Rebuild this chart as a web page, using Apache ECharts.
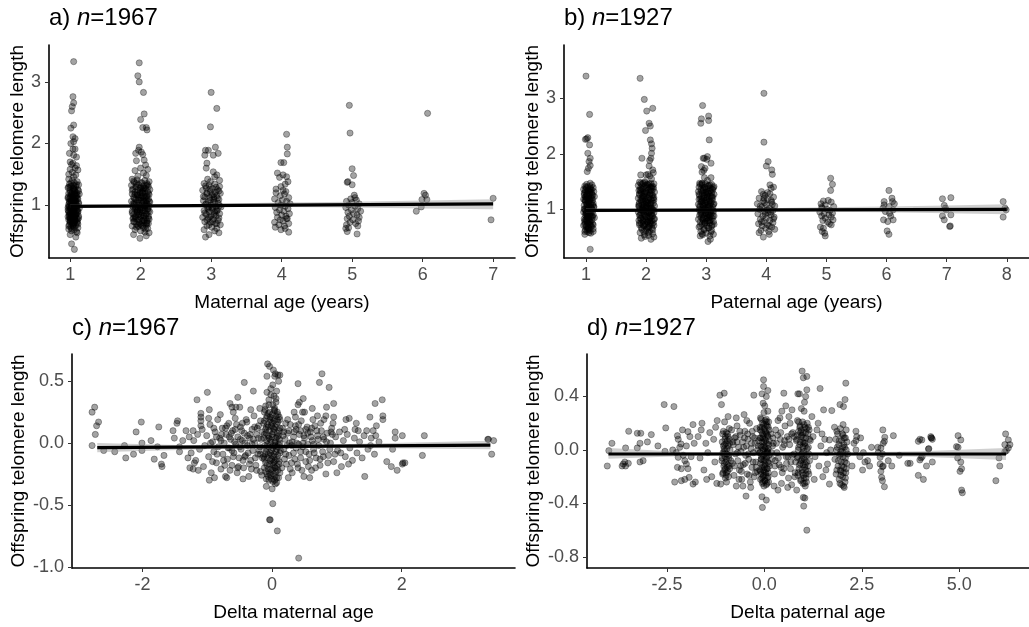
<!DOCTYPE html>
<html>
<head>
<meta charset="utf-8">
<script src="https://cdn.jsdelivr.net/npm/echarts@6/dist/echarts.min.js"></script>
<style>html,body{margin:0;padding:0;background:#fff}#c{width:1029px;height:627px}</style>
</head>
<body>
<div id="c"></div>
<script>
// ---------- Tick labels ----------
const ticksAX = [1,2,3,4,5,6,7];
const ticksAY = [1,2,3];
const ticksBX = [1,2,3,4,5,6,7,8];
const ticksBY = [1,2,3];
const ticksCX = [-2,0,2];
const ticksCY = [-1.0,-0.5,0.0,0.5];
const ticksDX = [-2.5,0.0,2.5,5.0];
const ticksDY = [-0.8,-0.4,0.0,0.4];

// ---------- Panel a: maternal age vs offspring telomere length ----------
const a1 = [[1.05,3.33],[1.04,2.76],[1.05,2.66],[1.03,2.60],[1.02,2.53],[1.01,2.25],[1.05,2.30],[1.04,2.11],[1.07,2.08],[1.01,2.00],[1.05,2.03],[1.04,1.91],[1.07,1.91],[0.99,1.84],[1.05,1.81],[1.09,1.78],[1.00,1.70],[1.04,1.68],[1.09,1.64],[1.02,1.66],[1.07,1.60],[1.00,1.58],[1.11,1.57],[1.03,1.53],[0.98,1.50],[1.08,1.49],[1.05,1.46],
[1.08,0.48],[1.02,0.37],[1.06,0.28],[1.00,0.52],[1.10,0.55],
[0.98,1.42],[1.03,1.40],[1.10,1.38],[1.06,1.36],[0.99,1.34],[1.12,1.33],[1.02,1.31],[1.08,1.30],[0.97,1.28],[1.05,1.27],[1.11,1.25],[1.00,1.24],[1.07,1.22],[1.03,1.21],[0.98,1.19],[1.13,1.18],[1.06,1.17],[1.01,1.15],[1.09,1.14],[1.04,1.13],[0.97,1.11],[1.11,1.10],[1.02,1.09],[1.07,1.08],[0.99,1.06],[1.05,1.05],[1.12,1.04],[1.01,1.03],[1.08,1.02],[0.98,1.01],[1.04,1.00],[1.10,0.99],[1.02,0.98],[1.06,0.97],[0.97,0.96],[1.13,0.95],[1.00,0.94],[1.07,0.93],[1.03,0.92],[1.09,0.91],[0.98,0.90],[1.05,0.89],[1.11,0.88],[1.01,0.87],[1.06,0.86],[0.99,0.85],[1.08,0.84],[1.03,0.83],[1.12,0.82],[0.97,0.81],[1.05,0.80],[1.01,0.79],[1.09,0.78],[1.04,0.77],[0.98,0.76],[1.07,0.75],[1.02,0.74],[1.10,0.73],[1.00,0.72],[1.06,0.71],[1.03,0.70],[0.99,0.68],[1.08,0.67],[1.04,0.66],[1.01,0.64],[1.11,0.63],[0.98,0.61],[1.06,0.60],[1.02,0.58],[1.09,0.57],
[1.00,1.12],[1.08,1.07],[1.04,1.02],[0.99,0.97],[1.10,0.92],[1.03,0.88],[1.07,0.82],[1.00,0.78],[1.05,0.72],[1.11,0.69],[1.02,1.17],[1.06,1.26],[1.09,1.20]];
const a1more = [[1.01,1.36],[1.09,1.33],[0.98,1.29],[1.04,1.26],[1.12,1.23],[1.00,1.20],[1.07,1.18],[1.03,1.15],[0.97,1.13],[1.10,1.11],[1.05,1.09],[1.01,1.07],[1.08,1.05],[0.99,1.04],[1.12,1.02],[1.03,1.01],[1.06,0.99],[0.98,0.98],[1.09,0.96],[1.01,0.95],[1.05,0.93],[0.97,0.92],[1.11,0.90],[1.04,0.89],[1.00,0.87],[1.08,0.85],[1.02,0.84],[1.06,0.81],[0.99,0.80],[1.12,0.79],[1.03,0.77],[1.07,0.74],[1.00,0.73],[1.10,0.71],[1.04,0.68],[0.98,0.66],[1.06,0.64],[1.02,0.62],[1.08,1.15],[1.05,0.95],
[1.00,1.30],[1.06,1.24],[1.02,1.19],[1.10,1.16],[0.99,1.10],[1.05,1.07],[1.08,0.99],[1.01,0.97],[1.04,0.94],[0.98,0.88],[1.09,0.86],[1.03,0.81],[1.06,0.78],[1.00,0.75],[1.11,0.77],[1.04,0.70],[1.02,1.05],[1.07,1.12],[0.99,0.83],[1.05,1.32]];
const a2 = [[1.98,3.31],[1.96,3.10],[1.98,3.00],[2.04,2.83],[2.05,2.48],[2.00,2.39],[2.03,2.26],[2.08,2.26],[2.09,2.22],[1.98,1.94],[1.97,1.89],[1.93,1.84],[2.03,1.82],[2.01,1.86],[1.94,1.72],[2.05,1.73],[2.07,1.65],[2.00,1.60],[2.10,1.58],[1.92,1.56],[2.04,1.52],[2.08,1.48],[1.96,1.47],
[1.99,0.46],[2.08,0.50],[1.90,0.52],[2.12,0.55],
[1.88,1.42],[1.95,1.41],[2.06,1.40],[2.12,1.38],[1.91,1.37],[2.02,1.36],[2.09,1.35],[1.97,1.33],[1.87,1.32],[2.04,1.31],[2.11,1.30],[1.93,1.29],[2.00,1.28],[2.07,1.27],[1.89,1.26],[2.13,1.25],[1.96,1.24],[2.03,1.23],[2.10,1.22],[1.92,1.21],[1.99,1.20],[2.06,1.19],[1.88,1.18],[2.12,1.17],[1.95,1.16],[2.01,1.15],[2.08,1.14],[1.90,1.13],[1.97,1.12],[2.05,1.11],[2.11,1.10],[1.93,1.09],[2.00,1.08],[2.07,1.07],[1.87,1.06],[2.13,1.05],[1.94,1.04],[2.02,1.03],[2.09,1.02],[1.91,1.01],[1.98,1.00],[2.05,0.99],[2.12,0.98],[1.89,0.97],[1.96,0.96],[2.03,0.95],[2.10,0.94],[1.92,0.93],[1.99,0.92],[2.06,0.91],[1.88,0.90],[2.13,0.89],[1.95,0.88],[2.02,0.87],[2.08,0.86],[1.90,0.85],[1.97,0.84],[2.04,0.83],[2.11,0.82],[1.93,0.81],[2.00,0.80],[2.07,0.79],[1.89,0.78],[2.12,0.77],[1.96,0.76],[2.03,0.75],[2.09,0.74],[1.91,0.73],[1.98,0.72],[2.05,0.71],[2.11,0.70],[1.94,0.69],[2.01,0.68],[2.08,0.67],[1.88,0.66],[1.97,0.65],[2.04,0.63],[2.10,0.62],[1.92,0.60],[2.00,0.58],[2.06,0.56],[1.95,1.18],[2.08,1.03],[1.99,0.89],[2.04,1.26],[1.93,0.97]];
const a2more = [[1.90,1.39],[2.00,1.37],[2.10,1.33],[1.94,1.30],[2.05,1.28],[1.88,1.24],[2.01,1.21],[2.11,1.19],[1.96,1.16],[2.06,1.13],[1.91,1.11],[2.03,1.09],[2.12,1.06],[1.97,1.04],[1.89,1.02],[2.07,1.00],[2.00,0.98],[1.93,0.95],[2.10,0.93],[2.04,0.91],[1.95,0.89],[1.88,0.87],[2.08,0.85],[2.01,0.83],[1.92,0.81],[2.11,0.79],[1.98,0.77],[2.05,0.75],[1.90,0.73],[2.09,0.71],[1.99,0.69],[2.03,0.66],[1.94,0.64],[2.07,0.61],[2.00,1.12],[1.96,0.92],[2.02,1.25],[2.09,1.08],[1.93,0.78],[2.06,0.96],
[1.94,1.35],[2.08,1.32],[1.99,1.27],[2.03,1.20],[1.92,1.17],[2.09,1.15],[1.97,1.08],[2.04,1.05],[1.91,1.03],[2.06,0.98],[2.01,0.95],[1.95,0.91],[2.11,0.90],[1.98,0.86],[2.05,0.82],[1.90,0.79],[2.02,0.74],[2.08,0.70],[1.96,0.67],[2.03,1.14]];
const a3 = [[3.00,2.83],[3.08,2.57],[2.99,2.27],[2.92,1.89],[2.96,1.89],[2.91,1.81],[3.03,1.81],[3.06,1.94],[3.10,1.84],[2.94,1.68],[2.93,1.60],[3.03,1.54],[3.08,1.49],[3.05,1.46],[2.95,1.42],[2.99,1.38],[3.12,1.40],
[2.92,0.48],[3.11,0.55],[2.97,0.52],[3.05,0.58],
[2.90,1.35],[3.05,1.34],[2.97,1.32],[3.12,1.30],[2.93,1.28],[3.02,1.27],[3.09,1.25],[2.88,1.24],[2.99,1.22],[3.06,1.21],[3.13,1.19],[2.94,1.18],[3.01,1.16],[3.08,1.15],[2.91,1.13],[2.98,1.12],[3.04,1.10],[3.11,1.09],[2.89,1.07],[2.96,1.06],[3.03,1.04],[3.10,1.03],[2.92,1.01],[3.00,1.00],[3.07,0.98],[3.14,0.97],[2.95,0.95],[3.02,0.94],[3.09,0.92],[2.90,0.91],[2.97,0.89],[3.05,0.88],[3.12,0.86],[2.93,0.85],[3.00,0.83],[3.07,0.82],[2.88,0.80],[2.96,0.78],[3.03,0.77],[3.10,0.75],[2.91,0.73],[2.99,0.72],[3.06,0.70],[3.13,0.68],[2.94,0.66],[3.01,0.64],[3.08,0.62],[2.90,0.60],[3.04,1.13],[2.97,0.97],[3.06,0.91],
[2.92,1.31],[3.07,1.29],[2.98,1.26],[3.11,1.23],[2.94,1.20],[3.03,1.17],[2.89,1.14],[3.09,1.11],[2.99,1.08],[3.05,1.05],[2.93,1.02],[3.12,0.99],[3.01,0.96],[2.96,0.93],[3.08,0.90],[2.91,0.87],[3.04,0.84],[2.98,0.81],[3.11,0.79],[2.94,0.76],[3.02,0.73],[3.08,0.70],[2.97,0.68]];
const a4 = [[4.07,2.15],[4.08,1.94],[4.08,1.83],[3.99,1.69],[4.03,1.69],[3.94,1.52],[4.02,1.49],[4.07,1.46],[3.97,1.45],[4.09,1.38],[4.05,1.34],[3.99,1.30],[3.92,1.26],[4.02,1.24],[4.06,1.22],
[4.10,0.56],[3.99,0.60],[3.91,0.64],[4.05,0.62],
[3.92,1.20],[4.04,1.18],[3.98,1.15],[4.10,1.12],[3.90,1.10],[4.01,1.08],[4.07,1.06],[3.95,1.04],[4.12,1.02],[3.99,1.00],[4.05,0.98],[3.91,0.96],[4.09,0.94],[3.97,0.92],[4.03,0.90],[3.93,0.88],[4.11,0.86],[4.00,0.84],[4.06,0.82],[3.94,0.80],[4.08,0.78],[4.07,0.78],[3.98,0.76],[4.02,0.74],[3.90,0.72],[4.10,0.70],[3.96,0.68],[4.04,0.66]];
const a5 = [[4.96,2.62],[4.97,2.17],[5.00,1.59],[5.02,1.48],[4.94,1.38],[4.93,1.37],[5.00,1.33],
[5.03,1.16],[4.98,1.10],[5.06,1.08],[4.92,1.06],[5.00,1.04],[5.10,1.02],[4.95,1.00],[5.04,0.98],[4.91,0.96],[5.08,0.94],[4.99,0.92],[5.12,0.90],[4.94,0.88],[5.02,0.86],[5.07,0.84],[4.96,0.82],[5.10,0.80],[4.93,0.78],[5.01,0.76],[5.09,0.74],[4.97,0.72],[5.05,0.70],[4.92,0.68],[5.08,0.66],[4.95,0.63],[4.93,0.57],[5.07,0.53],[4.91,0.62],[5.04,1.12]];
const a6 = [[6.07,2.49],[6.02,1.19],[6.04,1.16],[6.06,1.09],[5.99,1.09],[5.98,0.97],[5.91,0.90]];
const a7 = [[7.00,1.11],[6.97,0.76]];
const aLineX = [1,7];
const aLineY = [0.98,1.02];
const aBandX = [1,2,3,4,5,6,7];
const aBandLo = [0.955,0.97,0.975,0.97,0.96,0.945,0.93];
const aBandHi = [1.01,1.005,1.02,1.04,1.055,1.075,1.095];

// ---------- Panel b: paternal age ----------
const b1 = [[1.00,3.40],[1.06,2.71],[1.01,2.27],[1.03,2.29],[0.99,2.26],[1.06,2.16],[1.03,2.01],[1.07,1.92],[1.05,1.86],[1.07,1.79],[1.04,1.74],[1.02,1.68],[1.07,1.47],[1.01,1.45],[1.10,1.44],[1.07,0.28],[1.08,0.57],[0.98,0.55],[1.12,0.60],
[0.98,1.42],[1.07,1.41],[1.12,1.39],[1.01,1.38],[0.96,1.36],[1.09,1.35],[1.04,1.34],[1.13,1.32],[0.99,1.31],[1.06,1.30],[1.02,1.28],[1.10,1.27],[0.97,1.26],[1.05,1.24],[1.14,1.23],[1.00,1.22],[1.08,1.21],[1.03,1.19],[0.96,1.18],[1.11,1.17],[1.06,1.15],[0.99,1.14],[1.04,1.13],[1.12,1.11],[1.01,1.10],[1.08,1.09],[0.97,1.07],[1.05,1.06],[1.13,1.05],[1.02,1.03],[1.09,1.02],[0.98,1.01],[1.06,0.99],[1.03,0.98],[1.11,0.97],[0.96,0.95],[1.07,0.94],[1.00,0.93],[1.04,0.91],[1.12,0.90],[0.99,0.89],[1.08,0.87],[1.02,0.86],[1.14,0.85],[0.97,0.83],[1.05,0.82],[1.10,0.81],[1.01,0.79],[1.07,0.78],[0.98,0.77],[1.03,0.75],[1.11,0.74],[1.06,0.72],[0.96,0.71],[1.09,0.69],[1.00,0.68],[1.04,0.66],[1.12,0.65],[0.99,0.63],[1.07,0.62],[1.02,0.60],[1.05,0.58],[1.01,1.26],[1.10,1.00],[1.04,0.84]];
const b1more = [[1.00,1.40],[1.08,1.37],[1.03,1.33],[0.97,1.29],[1.11,1.25],[1.05,1.20],[0.99,1.16],[1.09,1.12],[1.02,1.08],[1.13,1.04],[0.97,1.00],[1.06,0.96],[1.00,0.92],[1.10,0.88],[1.03,0.85],[0.98,0.80],[1.07,0.76],[1.12,0.72],[1.01,0.70],[1.05,0.64],[0.98,0.60],[1.09,1.30],[1.04,1.02],[1.01,1.18],[1.08,0.93],[1.03,0.68],[1.11,1.08],[0.99,1.23],[1.06,1.36],[1.02,0.79],
[1.03,1.41],[0.99,1.35],[1.07,1.32],[1.02,1.25],[1.10,1.20],[0.98,1.17],[1.05,1.11],[1.01,1.05],[1.08,1.03],[0.99,0.98],[1.06,0.90],[1.02,0.89],[1.11,0.86],[1.00,0.82],[1.05,0.77],[1.08,0.71],[0.98,0.73],[1.03,0.64],[1.06,1.18],[1.01,0.95]];
const b2 = [[1.90,3.36],[1.97,2.98],[2.01,2.77],[2.11,2.82],[2.05,2.55],[2.07,2.50],[1.99,2.42],[2.07,2.25],[2.09,2.18],[2.10,2.10],[2.09,2.01],[2.08,1.92],[1.93,1.92],[2.06,1.88],[2.05,1.78],[2.11,1.71],[2.00,1.62],[2.06,1.60],[2.12,1.66],[2.09,1.55],[1.98,1.50],[1.91,1.62],[2.03,1.63],
[2.08,0.46],[1.98,0.51],[1.92,0.48],[2.13,0.50],
[1.89,1.49],[1.98,1.48],[2.08,1.47],[2.13,1.46],[1.93,1.45],[2.03,1.44],[1.87,1.43],[2.10,1.42],[1.97,1.41],[2.06,1.40],[1.91,1.39],[2.01,1.38],[2.12,1.37],[1.95,1.36],[2.04,1.35],[1.88,1.34],[2.09,1.33],[1.99,1.32],[2.14,1.31],[1.92,1.30],[2.02,1.29],[2.07,1.28],[1.96,1.27],[1.89,1.26],[2.11,1.25],[2.00,1.24],[1.94,1.23],[2.05,1.22],[2.13,1.21],[1.87,1.20],[1.98,1.19],[2.08,1.18],[1.91,1.17],[2.03,1.16],[2.10,1.15],[1.95,1.14],[2.01,1.13],[1.89,1.12],[2.12,1.11],[1.97,1.10],[2.06,1.09],[1.93,1.08],[2.02,1.07],[2.14,1.06],[1.88,1.05],[1.99,1.04],[2.09,1.03],[1.94,1.02],[2.04,1.01],[1.90,1.00],[2.11,0.99],[1.96,0.98],[2.07,0.97],[2.00,0.96],[1.87,0.95],[2.13,0.94],[1.92,0.93],[2.03,0.92],[2.08,0.91],[1.97,0.90],[1.89,0.89],[2.11,0.88],[2.01,0.87],[1.94,0.86],[2.06,0.85],[1.91,0.84],[2.14,0.83],[1.98,0.82],[2.04,0.81],[1.88,0.80],[2.09,0.79],[1.95,0.78],[2.02,0.77],[2.12,0.76],[1.92,0.75],[1.99,0.74],[2.07,0.73],[1.89,0.72],[2.13,0.71],[1.96,0.70],[2.03,0.68],[2.10,0.66],[1.93,0.64],[2.00,0.62],[2.06,0.60],[1.90,0.58],[2.11,0.56],[1.97,0.54],[2.04,0.53],[2.08,1.40],[1.95,1.05],[2.05,0.94]];
const b2more = [[1.91,1.47],[2.05,1.46],[1.99,1.43],[2.12,1.40],[1.93,1.37],[2.07,1.34],[2.00,1.31],[1.89,1.28],[2.10,1.26],[1.96,1.23],[2.04,1.20],[2.13,1.17],[1.92,1.15],[2.01,1.12],[2.08,1.09],[1.88,1.06],[1.97,1.04],[2.06,1.01],[2.12,0.99],[1.94,0.97],[2.02,0.94],[2.09,0.92],[1.90,0.90],[1.99,0.87],[2.07,0.85],[2.13,0.82],[1.95,0.80],[2.03,0.78],[1.89,0.75],[2.10,0.73],[1.98,0.71],[2.05,0.69],[1.92,0.67],[2.01,0.65],[2.11,0.63],[1.96,0.60],[2.04,0.58],[2.08,1.12],[1.93,1.21],[2.00,1.02],[2.06,0.79],[1.91,1.33],
[1.95,1.47],[2.02,1.45],[2.09,1.38],[1.90,1.35],[1.98,1.29],[2.06,1.26],[2.11,1.20],[1.94,1.18],[2.03,1.11],[1.88,1.09],[2.00,1.07],[2.08,1.02],[1.93,0.99],[2.05,0.96],[1.97,0.92],[2.10,0.88],[1.91,0.83],[2.01,0.80],[2.07,0.76],[1.95,0.72],[2.04,0.66],[1.99,1.16]];
const b3 = [[2.94,2.87],[2.92,2.63],[2.91,2.55],[3.04,2.68],[3.04,2.60],[3.05,2.25],[2.95,1.92],[2.97,1.92],[3.01,1.90],[3.08,1.83],[3.02,1.95],[2.92,1.77],[2.96,1.70],[2.93,1.67],[2.98,1.74],[2.97,1.57],[3.08,1.57],[3.02,1.52],[2.93,1.47],
[3.07,0.46],[3.03,0.42],[2.90,0.52],[3.12,0.55],
[2.89,1.47],[2.99,1.46],[3.09,1.45],[2.93,1.44],[3.04,1.43],[3.13,1.41],[2.88,1.40],[2.97,1.39],[3.07,1.38],[3.01,1.37],[2.91,1.36],[3.11,1.35],[2.95,1.34],[3.05,1.33],[2.87,1.32],[3.00,1.31],[3.09,1.30],[2.93,1.29],[3.03,1.28],[3.13,1.27],[2.97,1.26],[2.89,1.25],[3.07,1.24],[3.02,1.23],[2.92,1.22],[3.11,1.21],[2.96,1.20],[3.05,1.19],[2.88,1.18],[3.00,1.17],[3.10,1.16],[2.94,1.15],[3.04,1.14],[2.91,1.13],[3.08,1.12],[2.98,1.11],[3.13,1.10],[2.87,1.09],[3.02,1.08],[2.95,1.07],[3.06,1.06],[2.90,1.05],[3.11,1.04],[2.99,1.03],[3.04,1.02],[2.93,1.01],[3.09,1.00],[2.88,0.99],[3.01,0.98],[2.96,0.97],[3.12,0.96],[3.06,0.95],[2.91,0.94],[2.99,0.93],[3.08,0.92],[2.94,0.91],[3.03,0.90],[2.89,0.89],[3.13,0.88],[2.97,0.87],[3.05,0.86],[2.92,0.85],[3.10,0.84],[3.00,0.83],[2.87,0.82],[3.07,0.81],[2.95,0.80],[3.02,0.79],[3.12,0.78],[2.90,0.77],[2.98,0.76],[3.06,0.75],[2.93,0.73],[3.10,0.72],[3.01,0.70],[2.88,0.68],[3.04,0.66],[2.96,0.64],[3.09,0.62],[2.91,0.60],[3.00,0.57],[2.94,0.54],[3.06,0.52]];
const b3more = [[2.90,1.45],[3.03,1.42],[3.12,1.39],[2.95,1.36],[3.07,1.33],[2.99,1.30],[2.88,1.27],[3.10,1.24],[3.01,1.21],[2.93,1.18],[3.06,1.15],[2.97,1.12],[3.12,1.09],[2.89,1.06],[3.03,1.03],[2.95,1.00],[3.08,0.97],[2.99,0.94],[2.91,0.91],[3.11,0.88],[3.02,0.85],[2.94,0.82],[3.06,0.79],[2.98,0.76],[3.13,0.73],[2.90,0.70],[3.04,0.67],[2.97,0.63],[3.08,0.59],[2.93,0.56],[3.01,1.26],[2.96,1.05],[3.05,0.90],[2.92,1.14],
[2.93,1.46],[3.06,1.44],[2.98,1.40],[3.10,1.37],[2.92,1.33],[3.03,1.30],[2.96,1.24],[3.09,1.22],[2.90,1.19],[3.01,1.14],[3.07,1.10],[2.94,1.08],[3.04,1.05],[2.99,1.00],[3.11,0.98],[2.92,0.96],[3.02,0.92],[3.07,0.87],[2.95,0.84],[3.04,0.80],[2.97,0.74],[3.09,0.70]];
const b4 = [[3.96,3.09],[3.96,2.21],[4.03,1.86],[4.00,1.78],[4.09,1.71],[4.10,1.63],[4.06,1.44],[4.12,1.40],[4.08,1.38],[4.02,1.30],
[3.95,0.50],[4.05,0.55],[3.88,0.58],
[3.92,1.32],[4.06,1.28],[3.98,1.25],[4.12,1.22],[3.88,1.20],[4.02,1.18],[3.95,1.15],[4.09,1.13],[3.85,1.10],[4.00,1.08],[4.14,1.06],[3.93,1.04],[4.05,1.02],[3.89,1.00],[4.11,0.98],[3.97,0.96],[4.03,0.94],[3.86,0.92],[4.08,0.90],[3.94,0.88],[4.13,0.86],[4.00,0.84],[3.90,0.82],[4.06,0.80],[3.96,0.78],[4.11,0.76],[3.87,0.74],[4.02,0.72],[3.93,0.70],[4.09,0.68],[3.99,0.66],[4.14,0.64],[3.91,0.62],[4.04,0.60],[3.97,1.12],[4.07,0.95],
[3.95,1.27],[4.08,1.16],[3.90,1.06],[4.02,0.99],[3.98,0.91],[4.12,0.83],[3.92,0.77],[4.05,0.70],[3.96,1.20],[4.10,1.09]];
const b5 = [[5.07,1.56],[5.10,1.45],[5.07,1.34],[4.95,1.15],[5.03,1.16],[5.08,1.13],[4.91,1.10],[4.98,1.08],[5.12,1.05],[4.93,1.02],[5.01,1.00],[5.06,0.98],[4.89,0.95],[5.10,0.93],[4.96,0.92],[5.04,0.90],[4.92,0.88],[5.08,0.86],[4.98,0.84],[5.11,0.81],[4.94,0.80],[5.02,0.77],[5.08,0.72],[4.90,0.68],[4.95,0.66],[4.93,0.60],[4.97,0.57],[4.98,0.52],[5.05,0.74],[4.92,1.04]];
const b6 = [[6.04,1.34],[6.09,1.20],[6.10,1.14],[5.96,1.14],[5.96,1.08],[6.04,1.05],[6.11,0.99],[5.98,0.96],[6.05,0.93],[5.95,0.81],[6.02,0.78],[6.11,0.81],[6.13,1.10],[5.94,1.02],[6.01,0.61],[6.04,0.55],[6.07,0.88]];
const b7 = [[6.93,1.19],[7.07,1.21],[6.96,1.07],[6.99,0.99],[7.07,0.90],[6.93,0.88],[6.96,0.81],[7.05,0.69],[7.06,0.70],[6.98,1.02]];
const b8 = [[7.94,1.14],[7.97,1.02],[7.94,0.86],[7.99,0.99]];
const bLineX = [1,8];
const bLineY = [0.98,1.0];
const bBandX = [1,2,3,4,5,6,7,8];
const bBandLo = [0.945,0.955,0.96,0.96,0.955,0.945,0.93,0.91];
const bBandHi = [1.02,1.005,1.01,1.02,1.035,1.05,1.07,1.09];

// ---------- Panel c: delta maternal age ----------
const cLeft = [[-2.78,0.25],[-2.74,0.29],[-2.68,0.17],[-2.71,0.14],[-2.73,0.07],[-2.78,-0.02],[-2.60,-0.06],[-2.43,-0.07],[-2.26,-0.12],[-2.28,-0.02],[-2.14,-0.09],[-2.02,0.17],[-2.10,0.09],[-2.01,0.00],[-2.01,-0.06],[-1.87,0.02],[-1.82,-0.13],[-1.75,0.13],[-1.77,-0.03],[-1.70,-0.19],[-1.71,-0.17],[-1.67,-0.10],[-1.51,0.04],[-1.46,0.18],[-1.47,0.16],[-1.53,0.10],[-1.43,-0.03],[-1.43,-0.07],[-1.33,0.10],[-1.22,0.10],[-1.38,0.02],[-1.30,-0.12],[-1.27,-0.20],[-1.22,-0.21],[-1.20,-0.16],[-1.16,0.35],[-1.10,0.24],[-1.10,0.21],[-1.10,0.18],[-1.10,0.14],[-1.00,0.41],[-0.97,0.27],[-0.97,-0.30],[-0.65,0.32],[-0.62,0.29],[-0.56,0.29],[-0.50,0.29],[-0.53,0.37],[-0.43,0.49],[-0.29,0.42],[-0.19,0.28],
[-1.28,0.05],[-1.25,-0.08],[-1.21,0.02],[-1.18,-0.14],[-1.15,0.07],[-1.12,-0.05],[-1.08,0.11],[-1.06,-0.19],[-1.04,-0.02],[-1.01,0.06],[-0.98,-0.11],[-0.96,0.15],[-0.94,-0.24],[-0.92,0.01],[-0.90,-0.07],[-0.88,0.09],[-0.86,-0.16],[-0.84,0.19],[-0.83,-0.03],[-0.81,0.04],[-0.79,-0.21],[-0.77,0.12],[-0.76,-0.09],[-0.74,0.00],[-0.72,-0.27],[-0.71,0.07],[-0.69,-0.13],[-0.67,0.16],[-0.66,-0.04],[-0.64,0.03],[-0.62,-0.18],[-0.61,0.10],[-0.59,-0.08],[-0.57,0.20],[-0.56,-0.01],[-0.54,-0.24],[-0.53,0.05],[-0.51,-0.12],[-0.49,0.13],[-0.48,-0.05],[-0.46,0.02],[-0.44,-0.20],[-0.43,0.08],[-0.41,-0.10],[-0.39,0.17],[-0.38,-0.02],[-0.36,-0.27],[-0.35,0.04],[-0.33,-0.14],[-0.31,0.11],[-0.30,-0.06],[-0.28,0.22],[-0.27,0.00],[-0.25,-0.18],[-0.24,0.07],[-0.22,-0.09],[-0.21,0.14],[-0.19,-0.03],[-0.18,-0.23],[-0.17,0.03],[-0.15,0.09],[-0.15,-0.12],[-0.70,-0.28],[-0.45,-0.29],[-0.60,0.25],[-0.33,0.27],[-0.80,0.23],[-0.98,0.20],[-1.14,-0.22],[-0.89,-0.28]];
const cZero = [[-0.07,0.64],[-0.04,0.62],[0.02,0.59],[0.05,0.56],[0.09,0.55],[0.12,0.55],[-0.08,0.54],[0.04,0.54],[0.10,0.50],[0.01,0.47],[-0.08,0.41],[0.07,0.42],[-0.02,0.44],[0.03,0.38],[-0.05,0.35],[0.06,0.33],[-0.10,0.30],[0.01,0.31],[0.04,0.28],
[0.01,-0.49],[-0.04,-0.62],[-0.03,-0.62],[0.08,-0.71],[0.41,-0.93],[0.00,-0.37],[-0.09,-0.35],[0.05,-0.33],
[-0.12,0.25],[-0.06,0.24],[0.00,0.23],[0.06,0.22],[0.11,0.21],[-0.09,0.20],[-0.03,0.19],[0.03,0.18],[0.09,0.17],[-0.13,0.16],[-0.07,0.15],[-0.01,0.14],[0.05,0.13],[0.12,0.12],[-0.10,0.11],[-0.04,0.10],[0.02,0.09],[0.08,0.08],[-0.12,0.07],[-0.06,0.06],[0.00,0.05],[0.06,0.04],[0.11,0.03],[-0.08,0.02],[-0.02,0.01],[0.04,0.00],[0.10,-0.01],[-0.11,-0.02],[-0.05,-0.03],[0.01,-0.04],[0.07,-0.05],[0.13,-0.06],[-0.09,-0.07],[-0.03,-0.08],[0.03,-0.09],[0.09,-0.10],[-0.13,-0.11],[-0.07,-0.12],[-0.01,-0.13],[0.05,-0.14],[0.11,-0.15],[-0.10,-0.16],[-0.04,-0.17],[0.02,-0.18],[0.08,-0.19],[-0.12,-0.20],[-0.06,-0.21],[0.00,-0.22],[0.06,-0.23],[0.12,-0.24],[-0.08,-0.25],[-0.02,-0.26],[0.04,-0.27],[0.10,-0.28],[-0.05,-0.30],[0.01,-0.31],[0.07,-0.32],[-0.03,0.21],[0.02,0.12],[-0.05,0.04],[0.05,-0.02],[-0.01,-0.10],[0.04,-0.20],[-0.09,0.13],[0.08,0.19],[-0.04,-0.24],[0.10,0.06],[-0.11,-0.09],[0.00,0.16],[0.03,-0.15]];
const cZeroMore = [[-0.11,0.27],[0.04,0.26],[-0.04,0.25],[0.09,0.23],[-0.08,0.22],[0.01,0.20],[0.12,0.19],[-0.12,0.18],[-0.02,0.17],[0.07,0.15],[-0.06,0.13],[0.03,0.11],[0.11,0.10],[-0.09,0.08],[0.00,0.07],[0.08,0.05],[-0.13,0.04],[-0.03,0.03],[0.05,0.01],[0.12,0.00],[-0.07,-0.01],[0.02,-0.02],[0.09,-0.03],[-0.10,-0.04],[-0.01,-0.06],[0.06,-0.07],[0.12,-0.08],[-0.06,-0.09],[0.03,-0.11],[-0.12,-0.13],[0.08,-0.13],[-0.03,-0.14],[0.01,-0.16],[0.11,-0.17],[-0.08,-0.18],[0.05,-0.20],[-0.02,-0.21],[0.09,-0.22],[-0.10,-0.23],[0.02,-0.25],[-0.06,-0.27],[0.07,-0.28],[-0.01,-0.29],[0.04,-0.30],[-0.09,-0.29],[0.03,0.27],[-0.05,0.31],[0.08,0.25],[0.06,0.36],[-0.02,0.39]];
const cCloudMore = [[-0.79,0.02],[-0.75,-0.14],[-0.72,0.12],[-0.68,-0.04],[-0.65,-0.22],[-0.63,0.08],[-0.60,-0.11],[-0.58,0.01],[-0.55,0.15],[-0.52,-0.19],[-0.50,-0.03],[-0.47,0.10],[-0.45,-0.14],[-0.42,0.00],[-0.40,0.19],[-0.37,-0.08],[-0.34,0.07],[-0.32,-0.21],[-0.29,0.03],[-0.26,-0.12],[-0.23,0.12],[-0.20,-0.06],[-0.18,0.18],[-0.16,-0.26],[0.17,0.06],[0.19,-0.13],[0.21,0.16],[0.23,-0.02],[0.26,0.10],[0.28,-0.21],[0.31,0.01],[0.33,-0.08],[0.36,0.14],[0.39,-0.17],[0.41,-0.01],[0.44,0.10],[0.46,-0.22],[0.49,0.06],[0.52,-0.07],[0.55,0.08],[0.58,-0.14],[0.61,0.12],[0.64,-0.01],[0.67,-0.20],[0.71,0.03],[0.75,0.16],[0.79,-0.11],[0.84,0.01],[0.89,-0.05],[0.93,0.07],[-0.86,0.05],[-0.92,-0.15],[1.06,-0.08],[1.12,0.11],
[-0.95,0.00],[-0.90,0.12],[-0.85,-0.09],[-0.78,0.07],[-0.73,-0.18],[-0.70,0.14],[-0.66,0.05],[-0.62,-0.06],[-0.57,0.11],[-0.53,-0.20],[-0.49,0.03],[-0.46,0.16],[-0.42,-0.11],[-0.38,0.06],[-0.35,-0.17],[-0.31,-0.01],[-0.27,0.13],[-0.24,-0.22],[-0.21,0.04],[-0.18,-0.09],[0.18,0.09],[0.21,-0.09],[0.24,0.19],[0.27,0.00],[0.30,-0.16],[0.34,0.09],[0.37,-0.04],[0.41,0.15],[0.44,-0.12],[0.48,0.00],[0.52,0.11],[0.56,-0.19],[0.60,0.05],[0.65,-0.08],[0.69,0.10],[0.74,-0.13],[0.79,0.05],[0.86,-0.16],[0.91,0.09],[0.97,-0.09]];
const cRight = [[0.77,0.56],[0.40,0.48],[0.73,0.49],[0.88,0.45],[0.48,0.36],[0.40,0.31],[0.42,0.33],[0.95,0.32],[0.84,0.29],[0.62,0.28],[0.63,0.19],[0.50,0.25],[0.34,0.25],[0.80,0.19],[0.83,0.22],[0.95,0.21],[0.94,0.16],[1.14,0.19],[1.19,0.20],[1.30,0.16],[1.28,0.11],[1.33,0.10],[1.59,0.32],[1.70,0.35],[1.51,0.21],[1.71,0.22],[1.71,0.19],[1.46,0.10],[1.56,0.10],[1.61,0.14],[1.53,0.04],[1.60,0.06],[1.90,0.09],[2.01,0.06],[1.90,0.04],[2.35,0.06],[1.86,-0.05],[1.77,-0.15],[1.84,-0.19],[1.93,-0.22],[2.02,-0.16],[2.05,-0.16],[2.01,-0.17],[2.32,-0.10],[1.43,-0.27],[3.34,0.03],[3.33,0.03],[3.42,0.02],[3.39,-0.09],
[0.16,0.12],[0.18,-0.05],[0.20,0.03],[0.22,-0.17],[0.24,0.08],[0.26,-0.10],[0.28,0.15],[0.30,-0.02],[0.31,-0.24],[0.33,0.05],[0.35,-0.13],[0.37,0.11],[0.38,0.00],[0.40,-0.20],[0.42,0.07],[0.44,-0.07],[0.45,0.18],[0.47,-0.03],[0.49,-0.27],[0.50,0.04],[0.52,-0.15],[0.54,0.13],[0.55,-0.01],[0.57,-0.09],[0.59,0.09],[0.61,-0.22],[0.62,0.02],[0.64,-0.05],[0.66,0.14],[0.68,-0.12],[0.70,0.06],[0.72,-0.02],[0.74,-0.18],[0.76,0.10],[0.78,-0.07],[0.80,0.03],[0.83,-0.25],[0.85,0.08],[0.87,-0.10],[0.90,0.00],[0.92,0.12],[0.95,-0.15],[0.98,0.05],[1.01,-0.06],[1.04,0.09],[1.07,-0.19],[1.10,0.02],[1.13,-0.11],[1.16,0.07],[1.20,-0.04],[1.24,-0.14],[1.27,0.04],[1.31,-0.08],[1.35,0.01],[1.39,-0.12],[1.42,0.06],[1.48,-0.05],[1.52,-0.02],[1.58,-0.09],[1.65,0.01],[0.25,-0.28],[0.58,-0.28],[0.36,0.21],[0.70,0.22],[0.15,-0.20],[1.00,-0.24],[1.18,-0.17],[0.47,0.25]];
const cLineX = [-2.70,3.37];
const cLineY = [-0.037,-0.016];
const cBandX = [-2.70,-1,0,1,3.37];
const cBandLo = [-0.075,-0.05,-0.04,-0.038,-0.05];
const cBandHi = [0.0,-0.022,-0.018,-0.01,0.018];

// ---------- Panel d: delta paternal age ----------
const dLeft = [[-4.03,-0.12],[-3.99,-0.005],[-3.91,0.05],[-3.62,-0.105],[-3.58,-0.09],[-3.49,-0.10],[-3.56,-0.12],[-3.65,-0.12],[-3.56,0.015],[-3.48,0.14],[-3.26,0.125],[-3.17,0.125],[-3.19,0.05],[-3.26,0.015],[-3.00,0.06],[-3.19,-0.09],[-3.11,-0.08],[-2.90,0.115],[-2.73,0.03],[-2.57,0.34],[-2.32,0.325],[-2.53,0.165],[-2.55,-0.01],
[-2.23,0.107],[-2.21,0.08],[-2.14,0.045],[-2.17,0.02],[-2.26,-0.02],[-2.21,-0.055],[-2.08,-0.04],[-2.04,-0.08],[-2.23,-0.13],[-2.13,-0.14],[-2.00,-0.105],[-1.96,-0.14],[-2.30,-0.24],[-2.13,-0.23],[-2.04,-0.22],[-1.93,-0.205],[-1.83,-0.255],[-1.77,-0.24],[-1.96,0.137],[-1.83,0.19],[-1.91,0.10],[-2.35,0.00],[-2.10,0.15],[-1.88,-0.05],[-2.00,0.03],[-1.80,0.05],
[-1.70,0.10],[-1.65,-0.06],[-1.60,0.20],[-1.55,-0.15],[-1.50,0.05],[-1.45,-0.02],[-1.40,0.13],[-1.35,-0.20],[-1.30,0.08],[-1.27,-0.09],[-1.25,0.17],[-1.22,-0.25],[-1.62,0.15],[-1.48,-0.22]];
const dMinus1 = [[-1.21,0.22],[-1.02,0.21],[-1.10,0.34],[-1.14,0.41],[-1.03,0.425],[-0.93,0.25],[-1.12,-0.255],[-0.97,-0.24],
[-1.05,0.14],[-0.95,0.12],[-1.00,0.10],[-0.90,0.08],[-1.08,0.06],[-0.98,0.05],[-0.93,0.03],[-1.03,0.01],[-0.88,0.00],[-1.06,-0.02],[-0.96,-0.03],[-1.01,-0.05],[-0.91,-0.06],[-1.09,-0.08],[-0.99,-0.09],[-0.94,-0.11],[-1.04,-0.12],[-0.89,-0.14],[-1.02,-0.15],[-0.97,-0.17],[-1.07,-0.18],[-0.92,-0.20],[-1.00,-0.21],[-0.95,0.07],[-1.04,-0.03],[-0.98,0.13],
[-1.07,0.12],[-0.93,0.10],[-1.01,0.08],[-0.89,0.05],[-1.05,0.03],[-0.96,0.01],[-1.02,-0.01],[-0.92,-0.04],[-1.08,-0.06],[-0.97,-0.07],[-1.03,-0.10],[-0.90,-0.12],[-1.00,-0.14],[-0.94,-0.16],[-1.06,-0.17],[-0.98,-0.19],[-1.02,0.04],[-0.95,-0.13],
[-0.84,0.15],[-0.82,-0.10],[-0.80,0.04],[-0.78,-0.19],[-0.76,0.09],[-0.74,-0.03],[-0.72,-0.27],[-0.70,0.18],[-0.68,-0.08],[-0.66,0.02],[-0.64,-0.15],[-0.62,0.11],[-0.60,-0.01],[-0.58,-0.22],[-0.55,-0.27],[-0.56,0.06],[-0.54,-0.11],[-0.52,0.265],[-0.50,0.14],[-0.48,-0.04],[-0.47,-0.345],[-0.46,0.03],[-0.44,-0.18],[-0.42,0.08],[-0.40,-0.07],[-0.38,0.20],[-0.36,-0.24],[-0.34,0.01],[-0.32,-0.13],[-0.30,0.10],[-0.28,-0.02],[-0.27,0.41],[-0.26,-0.20],[-0.24,0.05],[-0.22,-0.09],[-0.20,0.16],[-0.18,-0.16],[-0.17,0.00],[-0.15,0.07],[-0.72,0.24],[-0.45,0.22],[-0.65,-0.22],[-0.35,-0.28],
[-0.81,0.06],[-0.77,-0.12],[-0.73,0.10],[-0.69,-0.02],[-0.63,0.14],[-0.59,-0.16],[-0.53,0.02],[-0.49,-0.10],[-0.43,0.12],[-0.39,-0.19],[-0.33,0.05],[-0.29,-0.09],[-0.25,0.09],[-0.21,-0.13],[-0.16,0.03],
[-0.90,0.16],[-0.86,-0.08],[-0.70,0.06],[-0.61,-0.12],[-0.51,0.09],[-0.41,-0.03],[-0.31,0.14],[-0.23,-0.17]];
const dZero = [[-0.02,0.525],[-0.02,0.475],[-0.06,0.42],[0.09,0.445],[0.05,0.40],[-0.03,0.35],[0.01,0.33],[-0.01,0.28],[0.09,0.29],[0.05,0.23],[-0.06,-0.35],[0.05,-0.375],[-0.05,-0.43],
[-0.10,0.24],[0.02,0.22],[0.11,0.21],[-0.05,0.20],[0.07,0.18],[-0.11,0.17],[0.00,0.16],[0.12,0.15],[-0.07,0.14],[0.04,0.13],[-0.02,0.11],[0.09,0.10],[-0.12,0.09],[0.01,0.08],[0.13,0.07],[-0.06,0.06],[0.06,0.05],[-0.09,0.03],[0.03,0.02],[0.10,0.01],[-0.03,0.00],[0.07,-0.01],[-0.11,-0.02],[0.00,-0.03],[0.12,-0.04],[-0.07,-0.05],[0.05,-0.06],[-0.01,-0.08],[0.09,-0.09],[-0.10,-0.10],[0.02,-0.11],[0.13,-0.12],[-0.05,-0.13],[0.06,-0.14],[-0.12,-0.15],[0.00,-0.16],[0.10,-0.17],[-0.08,-0.18],[0.03,-0.19],[-0.03,-0.20],[0.08,-0.21],[-0.10,-0.22],[0.01,-0.23],[0.11,-0.24],[-0.05,-0.25],[0.05,-0.26],[-0.01,-0.27],[0.04,0.19],[-0.04,0.09],[0.08,-0.02],[-0.02,-0.15],[0.06,0.12],[-0.08,-0.07],
[-0.08,0.23],[0.06,0.21],[-0.02,0.19],[0.10,0.17],[-0.11,0.15],[0.02,0.14],[-0.05,0.12],[0.08,0.11],[-0.09,0.09],[0.04,0.07],[-0.01,0.06],[0.11,0.04],[-0.07,0.02],[0.01,0.01],[0.09,-0.01],[-0.12,-0.02],[-0.03,-0.04],[0.06,-0.05],[-0.08,-0.07],[0.03,-0.08],[0.12,-0.10],[-0.05,-0.11],[0.00,-0.13],[0.08,-0.14],[-0.10,-0.16],[0.04,-0.17],[-0.02,-0.19],[0.10,-0.20],[-0.07,-0.21],[0.02,-0.23],[-0.04,-0.24],[0.07,-0.25],[-0.01,0.03],[0.05,-0.02],[-0.06,0.17],
[0.50,0.425],[0.86,0.42],[0.17,0.12],[0.20,-0.07],[0.23,0.05],[0.26,-0.18],[0.29,0.15],[0.32,-0.02],[0.35,0.22],[0.38,-0.11],[0.41,0.08],[0.44,-0.25],[0.47,0.02],[0.50,-0.14],[0.53,0.18],[0.56,-0.05],[0.59,0.10],[0.62,-0.21],[0.65,0.04],[0.68,-0.09],[0.71,0.30],[0.73,0.13],[0.76,-0.03],[0.79,-0.17],[0.82,0.07],[0.40,0.24],[0.55,0.33],[0.25,-0.27],[0.60,-0.28],[0.45,0.29],[0.66,0.20],[0.35,-0.30],[0.70,-0.26],
[0.18,-0.02],[0.22,0.09],[0.27,-0.12],[0.31,0.05],[0.36,-0.06],[0.42,0.13],[0.46,-0.17],[0.51,0.04],[0.57,-0.10],[0.63,0.08],[0.67,-0.14],[0.72,-0.04],[0.77,0.10],[0.80,-0.09],[0.63,0.25],
[0.21,0.03],[0.28,-0.08],[0.34,0.11],[0.43,-0.13],[0.52,0.07],[0.61,-0.05],[0.70,0.12],[0.78,-0.20]];
const dPlus1 = [[0.97,0.59],[1.09,0.55],[1.00,0.54],[0.90,0.42],[1.09,0.45],[1.06,0.40],[1.03,0.357],[1.43,0.46],[1.00,-0.355],[1.04,-0.36],[1.01,-0.42],[1.09,-0.60],[0.83,-0.30],[1.02,0.29],[0.95,0.31],
[0.85,0.22],[0.98,0.21],[1.10,0.20],[0.92,0.18],[1.04,0.17],[1.15,0.15],[0.88,0.14],[1.00,0.13],[1.12,0.12],[0.95,0.10],[1.07,0.09],[0.83,0.08],[1.18,0.07],[0.99,0.06],[0.91,0.04],[1.05,0.03],[1.13,0.02],[0.87,0.00],[1.01,-0.01],[0.96,-0.03],[1.09,-0.04],[0.84,-0.06],[1.03,-0.07],[1.16,-0.08],[0.93,-0.10],[1.00,-0.11],[1.11,-0.12],[0.89,-0.14],[1.06,-0.15],[0.97,-0.17],[1.14,-0.18],[0.86,-0.19],[1.02,-0.21],[0.94,-0.22],[1.08,-0.24],[0.99,-0.25],[1.05,-0.27],[1.02,0.05],[0.97,-0.07],[1.08,0.16],
[0.88,0.21],[1.02,0.19],[1.13,0.17],[0.95,0.15],[1.06,0.13],[0.85,0.11],[1.00,0.09],[1.16,0.08],[0.92,0.06],[1.04,0.05],[0.88,0.02],[1.10,0.01],[0.98,-0.02],[1.14,-0.03],[0.86,-0.05],[1.01,-0.06],[0.94,-0.08],[1.08,-0.09],[0.90,-0.11],[1.04,-0.13],[0.97,-0.15],[1.12,-0.16],[0.87,-0.17],[1.00,-0.19],[1.07,-0.21],[0.93,-0.23],[1.03,-0.25],[0.96,0.11],[1.05,-0.11],[0.91,0.17],[0.99,0.02],[1.06,-0.18],[0.93,0.13],
[1.73,0.295],[1.25,0.10],[1.30,-0.05],[1.35,0.15],[1.40,-0.12],[1.45,0.03],[1.50,-0.20],[1.55,0.08],[1.60,-0.02],[1.62,-0.105],[1.67,0.075],[1.67,-0.255],[1.28,-0.22],[1.38,0.20],[1.48,0.12],[1.58,-0.15],[1.70,0.00],[1.22,0.25],[1.52,0.30]];
const dPlus2 = [[2.09,0.50],[2.07,0.377],[1.94,0.34],[2.03,0.325],[2.05,-0.28],[2.03,-0.27],[1.80,0.17],[1.95,0.16],[2.10,0.15],[1.88,0.12],[2.02,0.11],[1.83,0.08],[1.98,0.07],[2.12,0.06],[1.91,0.04],[2.06,0.02],[1.85,0.00],[2.00,-0.01],[2.14,-0.03],[1.93,-0.04],[2.08,-0.06],[1.81,-0.07],[1.97,-0.09],[2.11,-0.10],[1.89,-0.12],[2.04,-0.13],[1.95,-0.15],[2.09,-0.17],[1.84,-0.18],[2.01,-0.20],[1.92,-0.22],[2.07,-0.24],[1.98,-0.26],[2.02,0.19],[1.96,-0.01],
[1.86,0.14],[2.00,0.12],[2.08,0.09],[1.92,0.07],[2.04,0.04],[1.87,0.02],[2.10,0.00],[1.95,-0.03],[2.02,-0.05],[1.90,-0.08],[2.06,-0.09],[1.99,-0.12],[2.10,-0.14],[1.86,-0.15],[2.03,-0.17],[1.96,-0.19],[2.08,-0.21],[1.94,-0.25],[2.01,0.02],[1.96,-0.16],[2.05,0.09],
[2.35,0.14],[2.37,0.10],[2.35,0.07],[2.35,0.00],[2.54,-0.02],[2.58,-0.09],[2.52,-0.15],[2.65,-0.08],[2.75,0.02],[2.45,-0.05],[2.25,-0.12],[2.30,0.05],[2.70,-0.12],[2.47,0.09]];
const dFar = [[3.04,0.15],[3.09,0.095],[3.08,0.065],[3.05,0.05],[3.31,0.107],[2.91,0.02],[2.99,0.015],[2.92,-0.02],[3.03,-0.03],[2.97,-0.055],[3.18,-0.08],[3.27,-0.12],[2.97,-0.105],[3.03,-0.125],[3.05,-0.12],[2.99,-0.16],[3.01,-0.205],[3.03,-0.23],[3.08,-0.275],[3.46,-0.04],[3.68,-0.10],[3.74,-0.10],
[3.99,0.08],[3.95,0.065],[4.04,0.075],[4.27,0.10],[4.31,0.08],[4.29,0.09],[4.28,0.09],[4.21,0.007],[4.22,0.01],[4.02,-0.06],[4.05,-0.05],[3.99,-0.075],[4.31,-0.09],[4.16,-0.12],[3.95,-0.19],[4.08,-0.22],
[4.97,0.107],[5.04,0.075],[4.93,0.025],[4.97,0.02],[4.96,-0.06],[5.04,-0.09],[5.06,-0.14],[5.02,-0.16],[5.06,-0.30],[5.08,-0.32],
[6.19,0.12],[6.26,0.075],[6.30,0.04],[6.17,0.04],[6.26,0.015],[6.21,-0.005],[6.17,-0.013],[6.02,-0.06],[6.04,-0.12],[5.94,-0.23]];
const dLineX = [-4.0,6.2];
const dLineY = [-0.03,-0.03];
const dBandX = [-4,-2,0,2,4,6.2];
const dBandLo = [-0.065,-0.045,-0.04,-0.04,-0.05,-0.075];
const dBandHi = [0.015,-0.015,-0.02,-0.02,-0.01,0.015];

// ---------- Chart ----------
const FONT = '"Liberation Sans", Arial, sans-serif';
const chart = echarts.init(document.getElementById('c'), null, {renderer:'canvas'});

function pts(idx, data){
  return {type:'scatter', xAxisIndex:idx, yAxisIndex:idx, data:data, symbolSize:6.2, silent:true, z:2,
    itemStyle:{color:'rgba(0,0,0,0.45)', borderColor:'rgba(0,0,0,0.5)', borderWidth:0.8}};
}
function band(idx, xs, lo, hi){
  return {type:'custom', xAxisIndex:idx, yAxisIndex:idx, silent:true, z:3, clip:true,
    data:[[xs[0], lo[0]]],
    renderItem: function(params, api){
      const top = xs.map((x,i)=>api.coord([x, hi[i]]));
      const bot = xs.map((x,i)=>api.coord([x, lo[i]])).reverse();
      return {type:'polygon', shape:{points: top.concat(bot)}, style:{fill:'rgba(150,150,150,0.45)'}};
    }};
}
function fit(idx, xs, ys){
  return {type:'line', xAxisIndex:idx, yAxisIndex:idx, symbol:'none', silent:true, z:4,
    lineStyle:{color:'#000', width:3.2}, data: xs.map((x,i)=>[x, ys[i]])};
}
function axBase(idx, min, max, ticks, name, gap, dec){
  return {type:'value', gridIndex:idx, min:min, max:max, name:name, nameLocation:'middle', nameGap:gap,
    nameTextStyle:{fontFamily:FONT, fontSize:19, color:'#000'},
    axisLine:{onZero:false, lineStyle:{color:'#000', width:1.6}},
    axisTick:{customValues:ticks, length:4, lineStyle:{color:'#333', width:1}},
    axisLabel:{customValues:ticks, color:'#4d4d4d', fontFamily:FONT, fontSize:18, margin:8,
      formatter: v => dec ? Number(v).toFixed(dec) : String(v)},
    splitLine:{show:false}};
}
function xAx(idx, min, max, ticks, name, dec){ return axBase(idx, min, max, ticks, name, 35, dec); }
function yAx(idx, min, max, ticks, name, gap, dec){ const a = axBase(idx, min, max, ticks, name, gap, dec); a.nameRotate = 90; return a; }
function ttl(label, n, left, top){
  return {text:'{t|' + label + ' }{i|n}{t|=' + n + '}', left:left, top:top, padding:0,
    textStyle:{fontWeight:'normal', rich:{t:{fontFamily:FONT, fontSize:24, fontWeight:'normal', color:'#000'}, i:{fontFamily:FONT, fontSize:24, fontWeight:'normal', fontStyle:'italic', color:'#000'}}}};
}

const YNAME = 'Offspring telomere length';
const option = {
  animation:false,
  backgroundColor:'#fff',
  title:[ttl('a)', 1967, 49, 6), ttl('b)', 1927, 564, 6), ttl('c)', 1967, 72, 316), ttl('d)', 1927, 587, 316)],
  grid:[
    {left:49, top:45, width:466, height:213},
    {left:564, top:45, width:465, height:213},
    {left:72, top:354, width:443, height:214},
    {left:587, top:354, width:442, height:214}
  ],
  xAxis:[
    xAx(0, 0.70, 7.31, ticksAX, 'Maternal age (years)', 0),
    xAx(1, 0.634, 8.37, ticksBX, 'Paternal age (years)', 0),
    xAx(2, -3.09, 3.75, ticksCX, 'Delta maternal age', 0),
    xAx(3, -4.55, 6.79, ticksDX, 'Delta paternal age', 1)
  ],
  yAxis:[
    yAx(0, 0.14, 3.6, ticksAY, YNAME, 21, 0),
    yAx(1, 0.123, 3.96, ticksBY, YNAME, 20, 0),
    yAx(2, -1.01, 0.72, ticksCY, YNAME, 44, 1),
    yAx(3, -0.883, 0.718, ticksDY, YNAME, 44, 1)
  ],
  series:[
    pts(0,a1),pts(0,a1more),pts(0,a2),pts(0,a2more),pts(0,a3),pts(0,a4),pts(0,a5),pts(0,a6),pts(0,a7),
    band(0,aBandX,aBandLo,aBandHi), fit(0,aLineX,aLineY),
    pts(1,b1),pts(1,b1more),pts(1,b2),pts(1,b2more),pts(1,b3),pts(1,b3more),pts(1,b4),pts(1,b5),pts(1,b6),pts(1,b7),pts(1,b8),
    band(1,bBandX,bBandLo,bBandHi), fit(1,bLineX,bLineY),
    pts(2,cLeft),pts(2,cZero),pts(2,cZeroMore),pts(2,cCloudMore),pts(2,cRight),
    band(2,cBandX,cBandLo,cBandHi), fit(2,cLineX,cLineY),
    pts(3,dLeft),pts(3,dMinus1),pts(3,dZero),pts(3,dPlus1),pts(3,dPlus2),pts(3,dFar),
    band(3,dBandX,dBandLo,dBandHi), fit(3,dLineX,dLineY)
  ]
};
chart.setOption(option);
</script>
</body>
</html>
